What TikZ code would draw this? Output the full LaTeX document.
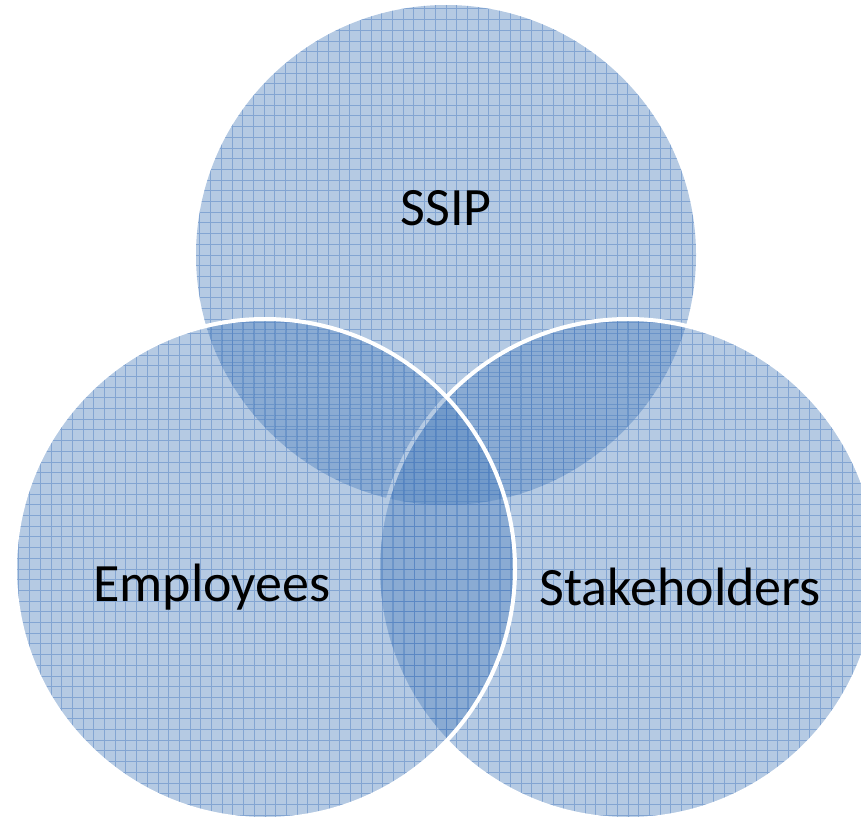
\documentclass[tikz,border=0pt]{standalone}
\usepackage{fontspec}
\setmainfont{Carlito}
\definecolor{vblue}{RGB}{79,129,189}
\definecolor{gblue}{RGB}{70,120,190}
\tikzset{
  venn/.style={circle, inner sep=0pt, minimum size=500pt, fill=vblue, fill opacity=0.42,
    draw=white, line width=4pt,
    path picture={\draw[gblue, draw opacity=0.45, line width=0.9pt, step=10.7pt]
      (path picture bounding box.south west) grid (path picture bounding box.north east);}},
  lbl/.style={text=black, font=\fontsize{54}{60}\selectfont, inner sep=0pt}
}
\begin{document}
\begin{tikzpicture}[x=1pt,y=-1pt]
\useasboundingbox (0,0) rectangle (861,816);
\node[venn, draw=none] (top) at (446,255) {};
\node[venn] (right) at (628,569) {};
\node[venn] (left) at (265,569) {};
\node[lbl] (ssip) at (446,208) {SSIP};
\node[lbl] (emp) at (212,587) {Employees};
\node[lbl] (stake) at (680,587) {Stakeholders};
\end{tikzpicture}
\end{document}
